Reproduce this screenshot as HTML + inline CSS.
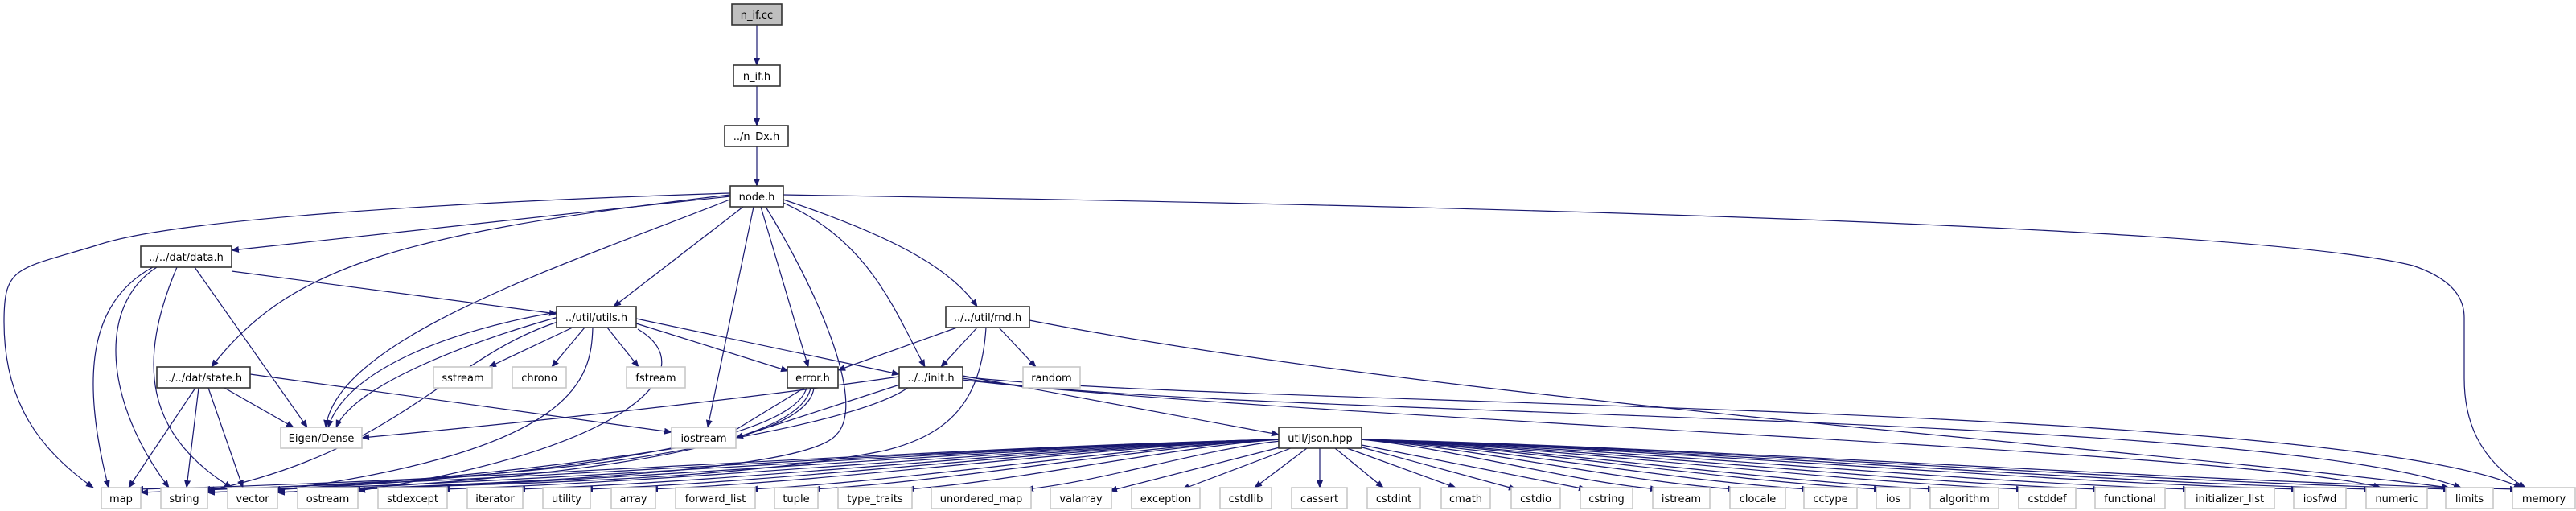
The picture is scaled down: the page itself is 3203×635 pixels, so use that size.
<!DOCTYPE html>
<html><head><meta charset="utf-8"><style>
html,body{margin:0;padding:0;background:#fff;}
svg{display:block;}
text{font-family:"DejaVu Sans","Liberation Sans",sans-serif;font-size:13px;fill:#000;}
.e{fill:none;stroke:#191970;stroke-width:1.2;marker-end:url(#a);}
.n{fill:#fff;stroke:#333;stroke-width:1.6;}
.g{fill:#fff;stroke:#c8c8c8;stroke-width:1.6;}
</style></head><body>
<svg width="3203" height="635" viewBox="0 0 3203 635" xmlns="http://www.w3.org/2000/svg">
<defs><marker id="a" markerWidth="10" markerHeight="8" refX="9" refY="4" orient="auto" markerUnits="userSpaceOnUse"><path d="M0,0 L10,4 L0,8 z" fill="#191970"/></marker></defs>
<g>
<path class="e" d="M941,31 L941,81"/>
<path class="e" d="M941,107 L941,156"/>
<path class="e" d="M941,182 L941,231"/>
<path class="e" d="M908,240 C600,250 220,270 120,305 C20,335 5,330 5,400 C5,500 50,560 116,606"/>
<path class="e" d="M908,244 L288,311"/>
<path class="e" d="M908,242 C500,290 360,330 263,456"/>
<path class="e" d="M910,247 C700,330 420,420 405,531"/>
<path class="e" d="M924,257 L763,381"/>
<path class="e" d="M937,257 L880,531"/>
<path class="e" d="M946,257 L1005,456"/>
<path class="e" d="M952,257 C1010,350 1080,500 1040,540 C1000,590 600,600 345,612"/>
<path class="e" d="M974,252 C1080,300 1110,380 1150,456"/>
<path class="e" d="M974,248 C1100,290 1180,330 1215,381"/>
<path class="e" d="M974,242 C1800,255 2800,280 3000,330 C3060,350 3064,380 3064,395 L3064,470 C3064,520 3080,570 3140,606"/>
<path class="e" d="M190,332 C120,370 95,450 135,606"/>
<path class="e" d="M195,332 C120,380 130,500 210,606"/>
<path class="e" d="M220,332 C170,450 180,540 288,606"/>
<path class="e" d="M242,332 L382,531"/>
<path class="e" d="M288,337 L692,390"/>
<path class="e" d="M243,482 L160,606"/>
<path class="e" d="M247,482 L232,606"/>
<path class="e" d="M259,482 L302,606"/>
<path class="e" d="M279,482 L365,531"/>
<path class="e" d="M311,465 L835,537"/>
<path class="e" d="M712,407 L608,456"/>
<path class="e" d="M727,407 L686,456"/>
<path class="e" d="M755,407 L794,456"/>
<path class="e" d="M791,402 L980,461"/>
<path class="e" d="M791,396 L1118,465"/>
<path class="e" d="M692,388 C560,410 430,460 408,531"/>
<path class="e" d="M698,393 C580,425 440,480 418,531"/>
<path class="e" d="M737,407 C735,470 720,560 340,610"/>
<path class="e" d="M793,409 C880,460 780,560 445,610"/>
<path class="e" d="M700,398 C560,440 500,560 258,610"/>
<path class="e" d="M1000,482 L905,540"/>
<path class="e" d="M1003,482 C980,560 600,600 258,612"/>
<path class="e" d="M1008,482 C990,570 600,600 345,612"/>
<path class="e" d="M1012,482 C1000,580 500,600 175,612"/>
<path class="e" d="M1118,468 C900,500 600,530 450,544"/>
<path class="e" d="M1125,476 L915,544"/>
<path class="e" d="M1197,467 L1590,540"/>
<path class="e" d="M1130,481 C1050,540 600,600 258,612"/>
<path class="e" d="M1197,470 C1500,520 2800,510 3060,606"/>
<path class="e" d="M1197,468 C1500,505 2900,500 3135,606"/>
<path class="e" d="M1197,472 C1600,520 2800,560 2960,606"/>
<path class="e" d="M1190,407 L1042,460"/>
<path class="e" d="M1215,407 L1170,456"/>
<path class="e" d="M1242,407 L1288,456"/>
<path class="e" d="M1280,398 C1800,500 2700,560 3045,606"/>
<path class="e" d="M1226,407 C1220,500 1180,540 1100,560 C900,600 600,600 345,612"/>
<path class="e" d="M1592,546 C1165,556 596,598 169,608"/>
<path class="e" d="M1592,546 C1190,556 654,598 252,608"/>
<path class="e" d="M1592,546 C1216,556 715,598 339,608"/>
<path class="e" d="M1592,546 C1246,556 785,598 439,608"/>
<path class="e" d="M1592,546 C1279,556 863,598 550,608"/>
<path class="e" d="M1592,546 C1308,556 928,598 644,608"/>
<path class="e" d="M1592,546 C1333,556 987,598 728,608"/>
<path class="e" d="M1592,546 C1357,556 1044,598 809,608"/>
<path class="e" d="M1592,546 C1394,556 1131,598 933,608"/>
<path class="e" d="M1592,546 C1418,556 1185,598 1011,608"/>
<path class="e" d="M1592,546 C1453,556 1267,598 1128,608"/>
<path class="e" d="M1592,548 C1497,558 1371,598 1276,608"/>
<path class="e" d="M1595,555 L1380,610"/>
<path class="e" d="M1605,557 L1470,608"/>
<path class="e" d="M1625,557 L1560,606"/>
<path class="e" d="M1641,557 L1641,606"/>
<path class="e" d="M1660,557 L1720,606"/>
<path class="e" d="M1675,557 L1810,606"/>
<path class="e" d="M1690,555 L1885,608"/>
<path class="e" d="M1693,553 L1972,608"/>
<path class="e" d="M1691,546 C1802,556 1950,598 2061,608"/>
<path class="e" d="M1691,546 C1831,556 2017,598 2157,608"/>
<path class="e" d="M1691,546 C1858,556 2082,598 2249,608"/>
<path class="e" d="M1691,546 C1885,556 2145,598 2339,608"/>
<path class="e" d="M1691,546 C1905,556 2192,598 2406,608"/>
<path class="e" d="M1691,546 C1939,556 2269,598 2516,608"/>
<path class="e" d="M1691,546 C1967,556 2335,598 2611,608"/>
<path class="e" d="M1691,546 C2001,556 2413,598 2723,608"/>
<path class="e" d="M1691,546 C2041,556 2508,598 2858,608"/>
<path class="e" d="M1691,546 C2068,556 2571,598 2948,608"/>
<path class="e" d="M1691,546 C2098,556 2640,598 3047,608"/>
<path class="e" d="M1691,546 C2123,556 2698,598 3130,608"/>
</g>
<g text-anchor="middle">
<rect x="910" y="5" width="62" height="26" fill="#bfbfbf" stroke="#333" stroke-width="1.6"/><text x="941" y="23">n_if.cc</text>
<rect class="n" x="912" y="81" width="58" height="26"/><text x="941" y="99">n_if.h</text>
<rect class="n" x="901" y="156" width="79" height="26"/><text x="940.5" y="174">../n_Dx.h</text>
<rect class="n" x="908" y="231" width="66" height="26"/><text x="941" y="249">node.h</text>
<rect class="n" x="175" y="306" width="113" height="26"/><text x="231.5" y="324">../../dat/data.h</text>
<rect class="n" x="692" y="381" width="99" height="26"/><text x="741.5" y="399">../util/utils.h</text>
<rect class="n" x="1176" y="381" width="104" height="26"/><text x="1228" y="399">../../util/rnd.h</text>
<rect class="n" x="195" y="456" width="116" height="26"/><text x="253" y="474">../../dat/state.h</text>
<rect class="g" x="539" y="456" width="73" height="26"/><text x="575.5" y="474">sstream</text>
<rect class="g" x="637" y="456" width="67" height="26"/><text x="670.5" y="474">chrono</text>
<rect class="g" x="779" y="456" width="73" height="26"/><text x="815.5" y="474">fstream</text>
<rect class="n" x="979" y="456" width="63" height="26"/><text x="1010.5" y="474">error.h</text>
<rect class="n" x="1118" y="456" width="79" height="26"/><text x="1157.5" y="474">../../init.h</text>
<rect class="g" x="1272" y="456" width="71" height="26"/><text x="1307.5" y="474">random</text>
<rect class="g" x="349" y="531" width="101" height="26"/><text x="399.5" y="549">Eigen/Dense</text>
<rect class="g" x="835" y="531" width="80" height="26"/><text x="875" y="549">iostream</text>
<rect class="n" x="1590" y="531" width="103" height="26"/><text x="1641.5" y="549">util/json.hpp</text>
<rect class="g" x="126" y="606" width="49" height="26"/><text x="150.5" y="624">map</text>
<rect class="g" x="200" y="606" width="58" height="26"/><text x="229" y="624">string</text>
<rect class="g" x="283" y="606" width="62" height="26"/><text x="314" y="624">vector</text>
<rect class="g" x="370" y="606" width="75" height="26"/><text x="407.5" y="624">ostream</text>
<rect class="g" x="470" y="606" width="86" height="26"/><text x="513" y="624">stdexcept</text>
<rect class="g" x="581" y="606" width="69" height="26"/><text x="615.5" y="624">iterator</text>
<rect class="g" x="675" y="606" width="59" height="26"/><text x="704.5" y="624">utility</text>
<rect class="g" x="760" y="606" width="55" height="26"/><text x="787.5" y="624">array</text>
<rect class="g" x="840" y="606" width="99" height="26"/><text x="889.5" y="624">forward_list</text>
<rect class="g" x="963" y="606" width="54" height="26"/><text x="990" y="624">tuple</text>
<rect class="g" x="1042" y="606" width="92" height="26"/><text x="1088" y="624">type_traits</text>
<rect class="g" x="1158" y="606" width="124" height="26"/><text x="1220" y="624">unordered_map</text>
<rect class="g" x="1306" y="606" width="76" height="26"/><text x="1344" y="624">valarray</text>
<rect class="g" x="1407" y="606" width="85" height="26"/><text x="1449.5" y="624">exception</text>
<rect class="g" x="1517" y="606" width="64" height="26"/><text x="1549" y="624">cstdlib</text>
<rect class="g" x="1606" y="606" width="69" height="26"/><text x="1640.5" y="624">cassert</text>
<rect class="g" x="1700" y="606" width="66" height="26"/><text x="1733" y="624">cstdint</text>
<rect class="g" x="1792" y="606" width="61" height="26"/><text x="1822.5" y="624">cmath</text>
<rect class="g" x="1879" y="606" width="61" height="26"/><text x="1909.5" y="624">cstdio</text>
<rect class="g" x="1965" y="606" width="65" height="26"/><text x="1997.5" y="624">cstring</text>
<rect class="g" x="2055" y="606" width="71" height="26"/><text x="2090.5" y="624">istream</text>
<rect class="g" x="2151" y="606" width="69" height="26"/><text x="2185.5" y="624">clocale</text>
<rect class="g" x="2243" y="606" width="66" height="26"/><text x="2276" y="624">cctype</text>
<rect class="g" x="2333" y="606" width="42" height="26"/><text x="2354" y="624">ios</text>
<rect class="g" x="2400" y="606" width="85" height="26"/><text x="2442.5" y="624">algorithm</text>
<rect class="g" x="2510" y="606" width="71" height="26"/><text x="2545.5" y="624">cstddef</text>
<rect class="g" x="2605" y="606" width="87" height="26"/><text x="2648.5" y="624">functional</text>
<rect class="g" x="2717" y="606" width="111" height="26"/><text x="2772.5" y="624">initializer_list</text>
<rect class="g" x="2852" y="606" width="65" height="26"/><text x="2884.5" y="624">iosfwd</text>
<rect class="g" x="2942" y="606" width="76" height="26"/><text x="2980" y="624">numeric</text>
<rect class="g" x="3041" y="606" width="59" height="26"/><text x="3070.5" y="624">limits</text>
<rect class="g" x="3124" y="606" width="78" height="26"/><text x="3163" y="624">memory</text>
</g>
</svg>
</body></html>
